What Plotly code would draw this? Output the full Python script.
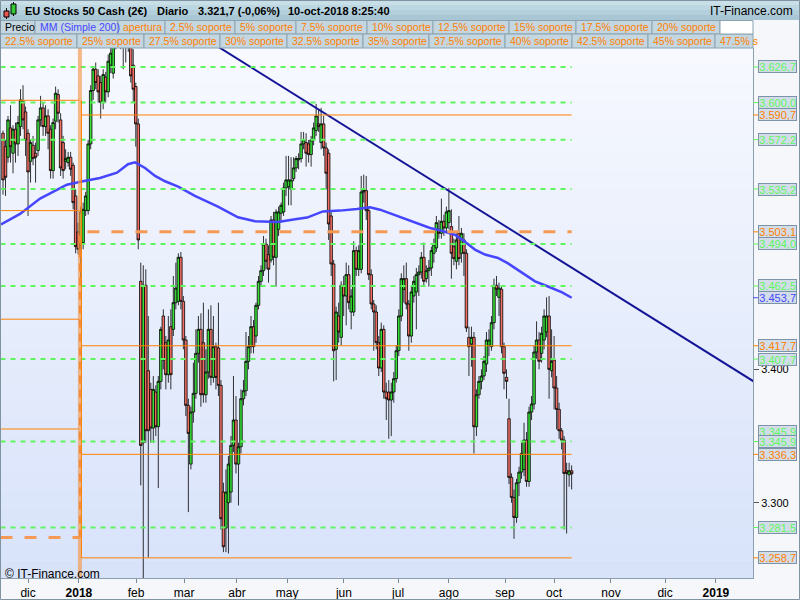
import plotly.graph_objects as go

# daily candles, late Nov 2017 -> 10 Oct 2018 (x = trading-day index)
opens = [3577, 3567, 3559, 3581, 3562, 3580, 3569, 3582, 3601, 3593, 3577, 3556, 3568, 3562, 3564, 3587,
         3596, 3582, 3590, 3580, 3549, 3586, 3606, 3587, 3570, 3556, 3555, 3559, 3553, 3530, 3503,
         3494, 3495, 3519, 3519, 3569, 3609, 3625, 3620, 3615, 3600, 3619, 3608, 3628, 3622, 3647, 3655,
         3668, 3645, 3650, 3645, 3655, 3628, 3612, 3584, 3466, 3345, 3463, 3399,
         3385, 3356, 3383, 3357, 3391, 3440, 3420, 3396, 3432, 3430, 3450, 3451, 3484, 3451, 3422, 3373,
         3329, 3368, 3382, 3412, 3430, 3420, 3381, 3398, 3430, 3394, 3417, 3416, 3388, 3308, 3281, 3300,
         3308, 3343, 3362, 3329, 3342, 3378, 3384, 3406, 3417, 3432, 3425, 3448, 3466, 3474, 3494, 3486,
         3482, 3512, 3484, 3505, 3517, 3518, 3536, 3537,
         3535, 3543, 3551, 3557, 3558, 3569, 3570, 3569, 3561, 3572, 3579, 3584, 3570, 3584, 3566, 3562,
         3515, 3479, 3415, 3440, 3424, 3463, 3455, 3471, 3443, 3443, 3489, 3475, 3475, 3533, 3534, 3519,
         3471, 3449, 3443, 3420, 3401, 3430, 3383, 3383, 3377, 3383, 3393, 3414, 3440, 3460, 3468, 3449,
         3425, 3455, 3458, 3471, 3473, 3484, 3468, 3474, 3476, 3487, 3491,
         3505, 3502, 3511, 3506, 3510, 3507, 3492, 3481, 3502, 3487, 3497, 3487, 3424, 3419, 3424, 3357,
         3381, 3391, 3395, 3404, 3418, 3417, 3435, 3463, 3454, 3460, 3417, 3394, 3363, 3319, 3304, 3289,
         3315, 3323, 3325, 3347, 3316, 3368, 3374, 3413, 3422, 3412, 3422, 3428, 3440, 3399, 3407, 3386,
         3370, 3354, 3347, 3324, 3321, 3324]
highs = [3579, 3572, 3590, 3598, 3583, 3585, 3590, 3610, 3613, 3597, 3580, 3572, 3575, 3570, 3590, 3605,
         3600, 3598, 3595, 3583, 3588, 3612, 3610, 3592, 3575, 3565, 3563, 3563, 3555, 3535, 3510,
         3522, 3525, 3533, 3572, 3613, 3627, 3630, 3625, 3620, 3625, 3623, 3636, 3645, 3660, 3665, 3670,
         3687, 3660, 3660, 3665, 3665, 3640, 3615, 3588, 3480, 3478, 3475, 3440,
         3390, 3395, 3388, 3395, 3432, 3445, 3425, 3440, 3445, 3470, 3480, 3487, 3488, 3455, 3425, 3378,
         3372, 3405, 3430, 3440, 3442, 3450, 3415, 3445, 3448, 3440, 3420, 3450, 3392, 3315, 3325, 3335,
         3350, 3395, 3380, 3345, 3385, 3392, 3428, 3425, 3440, 3437, 3450, 3470, 3478, 3500, 3498, 3493,
         3515, 3518, 3520, 3522, 3525, 3540, 3560, 3560,
         3559, 3559, 3560, 3562, 3578, 3578, 3577, 3572, 3575, 3585, 3599, 3595, 3596, 3590, 3570, 3565,
         3518, 3482, 3447, 3450, 3466, 3470, 3480, 3478, 3460, 3496, 3492, 3493, 3545, 3546, 3545, 3522,
         3475, 3452, 3448, 3425, 3435, 3433, 3390, 3392, 3390, 3398, 3418, 3445, 3472, 3478, 3480, 3452,
         3462, 3470, 3476, 3478, 3488, 3495, 3478, 3482, 3492, 3498, 3515,
         3512, 3528, 3516, 3522, 3536, 3520, 3498, 3502, 3515, 3506, 3502, 3490, 3432, 3432, 3428, 3385,
         3395, 3400, 3410, 3428, 3430, 3440, 3468, 3470, 3465, 3462, 3420, 3400, 3378, 3322, 3310, 3318,
         3327, 3345, 3360, 3353, 3372, 3380, 3418, 3436, 3428, 3432, 3445, 3454, 3455, 3430, 3425, 3395,
         3375, 3356, 3350, 3330, 3330, 3328]
lows = [3531, 3530, 3555, 3555, 3547, 3555, 3560, 3575, 3580, 3560, 3515, 3540, 3553, 3540, 3560, 3582,
        3575, 3575, 3565, 3543, 3543, 3580, 3585, 3545, 3543, 3550, 3552, 3545, 3520, 3487, 3486,
        3468, 3490, 3515, 3516, 3565, 3602, 3610, 3600, 3588, 3595, 3600, 3604, 3622, 3618, 3640, 3645,
        3640, 3625, 3630, 3638, 3615, 3600, 3567, 3490, 3313, 3243, 3345, 3259,
        3345, 3345, 3350, 3311, 3385, 3400, 3385, 3390, 3385, 3425, 3445, 3448, 3445, 3415, 3365, 3293,
        3325, 3360, 3378, 3405, 3372, 3375, 3375, 3393, 3388, 3390, 3385, 3380, 3280, 3263, 3263, 3262,
        3300, 3338, 3322, 3298, 3337, 3373, 3380, 3400, 3412, 3412, 3420, 3445, 3462, 3470, 3475, 3465,
        3480, 3478, 3462, 3500, 3510, 3515, 3530, 3523,
        3523, 3541, 3548, 3550, 3555, 3565, 3552, 3555, 3552, 3568, 3575, 3578, 3565, 3560, 3535, 3497,
        3470, 3391, 3392, 3420, 3418, 3440, 3433, 3445, 3430, 3440, 3470, 3470, 3472, 3525, 3512, 3467,
        3445, 3414, 3415, 3395, 3398, 3378, 3362, 3348, 3350, 3375, 3390, 3410, 3436, 3450, 3445, 3414,
        3420, 3450, 3430, 3455, 3468, 3462, 3465, 3462, 3470, 3480, 3488,
        3498, 3498, 3500, 3502, 3505, 3468, 3478, 3475, 3478, 3480, 3470, 3428, 3395, 3402, 3337, 3350,
        3378, 3385, 3392, 3398, 3410, 3414, 3430, 3455, 3440, 3412, 3385, 3378, 3314, 3300, 3273, 3285,
        3305, 3318, 3320, 3312, 3312, 3362, 3370, 3408, 3400, 3405, 3415, 3424, 3378, 3394, 3370, 3355,
        3348, 3340, 3280, 3277, 3312, 3310]
closes = [3542, 3544, 3587, 3567, 3580, 3569, 3585, 3602, 3587, 3572, 3548, 3570, 3558, 3559, 3587, 3596,
          3582, 3590, 3577, 3549, 3585, 3607, 3592, 3551, 3549, 3558, 3559, 3550, 3525, 3492, 3490,
          3518, 3520, 3530, 3569, 3609, 3625, 3615, 3608, 3600, 3621, 3608, 3631, 3637, 3647, 3655, 3660,
          3645, 3650, 3642, 3655, 3620, 3610, 3584, 3497, 3343, 3463, 3354, 3354,
          3356, 3385, 3357, 3391, 3430, 3407, 3396, 3422, 3396, 3450, 3461, 3484, 3451, 3422, 3373, 3352,
          3368, 3382, 3412, 3430, 3381, 3381, 3398, 3430, 3394, 3417, 3394, 3388, 3288, 3267, 3308, 3329,
          3343, 3362, 3329, 3342, 3378, 3384, 3406, 3417, 3432, 3417, 3448, 3466, 3474, 3494, 3481, 3475,
          3512, 3484, 3518, 3518, 3523, 3536, 3542, 3542,
          3542, 3551, 3558, 3558, 3569, 3572, 3562, 3561, 3572, 3581, 3590, 3582, 3584, 3566, 3547, 3509,
          3479, 3414, 3443, 3428, 3463, 3455, 3471, 3450, 3455, 3489, 3475, 3489, 3533, 3534, 3519, 3471,
          3449, 3443, 3420, 3401, 3430, 3383, 3378, 3377, 3383, 3393, 3414, 3440, 3468, 3468, 3449, 3425,
          3458, 3466, 3471, 3473, 3484, 3466, 3474, 3476, 3489, 3494, 3510,
          3502, 3511, 3506, 3518, 3519, 3487, 3483, 3497, 3483, 3502, 3487, 3431, 3417, 3424, 3357, 3381,
          3391, 3395, 3406, 3422, 3422, 3435, 3463, 3460, 3461, 3417, 3397, 3391, 3319, 3304, 3289, 3315,
          3323, 3337, 3347, 3316, 3368, 3374, 3413, 3422, 3406, 3427, 3440, 3440, 3400, 3406, 3386, 3370,
          3354, 3347, 3322, 3322, 3324, 3321.7]

# MM (Simple 200)
ma_x = [-0.8, 6.8, 14.8, 25.5, 31.9, 38.7, 45.5, 49.9, 52.7, 56.7, 60.7, 64.7, 69.9, 76.6, 85.8, 93.8,
        100.6, 109.8, 116.6, 121.4, 127.7, 134.5, 141.3, 146.5, 150.5, 157.3, 165.3, 170.5, 174.5, 180.4,
        184.4, 188.4, 192.4, 197.6, 201.6, 207.2, 212.4, 217.6, 223.2, 227]
ma_y = [3508.6, 3516.5, 3528.0, 3538.4, 3541.0, 3543.5, 3547.4, 3553.8, 3555.2, 3551.0, 3545.0, 3541.0,
        3537.0, 3530.0, 3522.0, 3514.0, 3511.0, 3510.5, 3512.5, 3513.8, 3518.4, 3519.0, 3520.2, 3521.5,
        3519.7, 3515.0, 3510.0, 3506.0, 3504.2, 3500.9, 3495.7, 3489.8, 3486.1, 3483.5, 3479.4, 3472.4,
        3466.0, 3462.1, 3457.7, 3453.7]

trend_x = [44, 300]
trend_y = [3691.0, 3390.6]

green_levels = [3626.7, 3600.0, 3572.2, 3535.2, 3494.0, 3462.5, 3407.7, 3345.9, 3281.5]
levels_2017 = [3601.7, 3519.0, 3437.6, 3355.3]
open_2017 = 3274.0
levels_2018 = [3590.7, 3417.7, 3336.3, 3258.7]
open_2018 = 3503.1
ma_last = 3453.7

month_idx = [10, 30.3, 53.1, 72.3, 93.4, 113.4, 136.1, 157.7, 178.0, 200.4, 220.0, 242.7, 264.3, 284.6]
month_lbl = ["dic", "<b>2018</b>", "feb", "mar", "abr", "may", "jun", "jul", "ago", "sep", "oct",
             "nov", "dic", "<b>2019</b>"]

legend_row1 = ["Precio", "MM (Simple 200)", "apertura", "2.5% soporte", "5% soporte", "7.5% soporte",
               "10% soporte", "12.5% soporte", "15% soporte", "17.5% soporte", "20% soporte"]
legend_row2 = ["22.5% soporte", "25% soporte", "27.5% soporte", "30% soporte", "32.5% soporte",
               "35% soporte", "37.5% soporte", "40% soporte", "42.5% soporte", "45% soporte", "47.5% s"]

FONT = "Liberation Sans, Arial, sans-serif"
GREEN = "#5ff55f"
ORANGE = "#ff8000"
BLUE = "#4646ff"
LAST = 227
YEAR_X = 30.7

# pixel -> paper helpers (plot area is x 1..753, y 48..578)
def fx(px):
  return (px - 1) / 752.0

def fy(py):
  return (578 - py) / 530.0

def fmt(v):
  return f"{v:,.1f}".replace(",", "X").replace(".", ",").replace("X", ".")

bars = list(range(len(closes)))

fig = go.Figure()
fig.add_trace(go.Candlestick(
  x=bars, open=opens, high=highs, low=lows, close=closes,
  increasing=dict(fillcolor="#38e038", line=dict(color="black", width=0.8)),
  decreasing=dict(fillcolor="#f26e64", line=dict(color="black", width=0.8)),
  whiskerwidth=0, hoverinfo="skip", showlegend=False,
))
fig.add_trace(go.Scatter(x=ma_x, y=ma_y, mode="lines", line=dict(color=BLUE, width=2.5),
                         hoverinfo="skip", showlegend=False))
fig.add_trace(go.Scatter(x=trend_x, y=trend_y, mode="lines", line=dict(color="#141496", width=2),
                         hoverinfo="skip", showlegend=False))

shapes = []
# plot background gradient
n = 30
for k in range(n):
  t = k / (n - 1)
  r = int(247 + (216 - 247) * t)
  g = int(249 + (227 - 249) * t)
  b = int(255 + (250 - 255) * t)
  shapes.append(dict(type="rect", xref="paper", yref="paper", x0=0, x1=1,
                     y0=1 - (k + 1) / n, y1=1 - k / n, layer="below",
                     line=dict(width=0), fillcolor=f"rgb({r},{g},{b})"))

# support / resistance levels
for v in green_levels:
  shapes.append(dict(type="line", xref="x", yref="y", x0=-1, x1=LAST, y0=v, y1=v,
                     line=dict(color=GREEN, width=2, dash="5px,5px")))
for v in levels_2017:
  shapes.append(dict(type="line", xref="x", yref="y", x0=-1, x1=YEAR_X - 0.2, y0=v, y1=v,
                     line=dict(color=ORANGE, width=1)))
shapes.append(dict(type="line", xref="x", yref="y", x0=-1, x1=YEAR_X - 0.2, y0=open_2017, y1=open_2017,
                   line=dict(color="#f59a55", width=3, dash="12px,12px")))
for v in levels_2018:
  shapes.append(dict(type="line", xref="x", yref="y", x0=YEAR_X + 0.6, x1=LAST, y0=v, y1=v,
                     line=dict(color=ORANGE, width=1)))
shapes.append(dict(type="line", xref="x", yref="y", x0=YEAR_X + 3, x1=LAST, y0=open_2018, y1=open_2018,
                   line=dict(color="#f59a55", width=3, dash="12px,12px")))
# year change
shapes.append(dict(type="line", xref="x", yref="paper", x0=YEAR_X, x1=YEAR_X, y0=0, y1=1,
                   line=dict(color="rgba(245,150,70,0.65)", width=4)))
shapes.append(dict(type="line", xref="x", yref="y", x0=YEAR_X, x1=YEAR_X, y0=open_2017, y1=open_2018,
                   line=dict(color="#f08a3a", width=2, dash="8px,6px")))
shapes.append(dict(type="line", xref="x", yref="y", x0=YEAR_X + 0.6, x1=YEAR_X + 0.6,
                   y0=levels_2018[-1], y1=levels_2017[0], line=dict(color=ORANGE, width=1)))

# header bar
hdr = ["#c8dfe8", "#bdd7e2", "#b2cfdb", "#a8c6d4"]
for k, c in enumerate(hdr):
  shapes.append(dict(type="rect", xref="paper", yref="paper", x0=fx(0), x1=fx(800),
                     y0=fy(5 * (k + 1)), y1=fy(5 * k), line=dict(width=0), fillcolor=c))
# small candle icon
shapes.append(dict(type="line", xref="paper", yref="paper", x0=fx(6.5), x1=fx(6.5), y0=fy(19), y1=fy(8),
                   line=dict(color="black", width=1)))
shapes.append(dict(type="rect", xref="paper", yref="paper", x0=fx(4), x1=fx(9), y0=fy(17), y1=fy(11),
                   line=dict(color="black", width=1), fillcolor="#e8564e"))
shapes.append(dict(type="line", xref="paper", yref="paper", x0=fx(13.5), x1=fx(13.5), y0=fy(16), y1=fy(2),
                   line=dict(color="black", width=1)))
shapes.append(dict(type="rect", xref="paper", yref="paper", x0=fx(11), x1=fx(16), y0=fy(14), y1=fy(4),
                   line=dict(color="black", width=1), fillcolor="#36c936"))

# legend cells
row1_edges = [0, 35, 118, 165, 235, 296, 367, 433, 509, 576, 652, 720]
row2_edges = [0, 77, 144, 220, 287, 363, 429, 505, 572, 648, 715, 753]
for edges, (top, bot) in ((row1_edges, (20.5, 34)), (row2_edges, (34, 48))):
  for a, b2 in zip(edges[:-1], edges[1:]):
    shapes.append(dict(type="rect", xref="paper", yref="paper", x0=fx(a), x1=fx(b2),
                       y0=fy(bot), y1=fy(top), line=dict(color="#8ba3b1", width=1),
                       fillcolor="#c4d7e1"))
shapes.append(dict(type="rect", xref="paper", yref="paper", x0=fx(720), x1=fx(753),
                   y0=fy(34), y1=fy(20.5), line=dict(color="#8ba3b1", width=1), fillcolor="white"))

# right axis level ticks
axis_labels = [(v, GREEN) for v in green_levels] + [(v, ORANGE) for v in levels_2018] + \
  [(open_2018, ORANGE), (ma_last, BLUE)]
for v, c in axis_labels:
  shapes.append(dict(type="line", xref="paper", yref="y", x0=fx(753), x1=fx(758), y0=v, y1=v,
                     line=dict(color=c, width=1)))

# outer frame
shapes.append(dict(type="rect", xref="paper", yref="paper", x0=fx(0.5), x1=fx(799.5),
                   y0=fy(599.5), y1=fy(0.5), line=dict(color="#7f93a3", width=1)))

annotations = []
hy = fy(10.5)
for txt, x in (("<b>EU Stocks 50 Cash (2€)</b>", 23), ("<b>Diario</b>", 155),
               ("<b>3.321,7 (-0,06%)</b>", 196), ("<b>10-oct-2018 8:25:40</b>", 286)):
  annotations.append(dict(text=txt, xref="paper", yref="paper", x=fx(x), y=hy, xanchor="left",
                          yanchor="middle", showarrow=False, font=dict(family=FONT, size=11, color="black")))
annotations.append(dict(text="IT-Finance.com", xref="paper", yref="paper", x=fx(795), y=hy, xanchor="right",
                        yanchor="middle", showarrow=False, font=dict(family=FONT, size=12, color="black")))

for names, edges, cy in ((legend_row1, row1_edges, 27.5), (legend_row2, row2_edges, 41.2)):
  for i, name in enumerate(names):
    col = ORANGE
    if name == "Precio":
      col = "black"
    elif name.startswith("MM"):
      col = BLUE
    annotations.append(dict(text=name, xref="paper", yref="paper", x=fx(edges[i] + 3), y=fy(cy),
                            xanchor="left", yanchor="middle", showarrow=False,
                            font=dict(family=FONT, size=10.5, color=col)))

annotations.append(dict(text="© IT-Finance.com", xref="paper", yref="paper", x=fx(3), y=fy(574),
                        xanchor="left", yanchor="middle", showarrow=False,
                        font=dict(family=FONT, size=12, color="black")))

# value boxes on the right axis (the duplicate 3.345,9 sits half hidden above)
box_list = [(green_levels[7], GREEN, 10)] + [(v, c, 0) for v, c in axis_labels]
for v, c, shift in box_list:
  annotations.append(dict(text=fmt(v), xref="paper", yref="y", x=fx(758), y=v, yshift=shift,
                          xanchor="left", yanchor="middle", showarrow=False, width=37, height=11,
                          align="right", borderpad=0, borderwidth=1, bordercolor="#7d93a9",
                          bgcolor="#d2dde9", font=dict(family=FONT, size=11, color=c)))

fig.update_layout(
  width=800, height=600,
  margin=dict(l=1, r=47, t=48, b=22),
  paper_bgcolor="#f5f7fa", plot_bgcolor="#e9effb",
  boxgap=0, boxgroupgap=0,
  shapes=shapes, annotations=annotations,
  xaxis=dict(range=[-0.8, 299.4], tickvals=month_idx, ticktext=month_lbl, ticks="outside", ticklen=4,
             tickcolor="#7a8a99", showgrid=False, zeroline=False, showline=True, linecolor="#8ba0ae",
             rangeslider=dict(visible=False), tickfont=dict(family=FONT, size=12, color="black")),
  yaxis=dict(range=[3243.6, 3640.9], side="right", tickvals=[3300, 3400], ticktext=["3.300", "3.400"],
             ticks="outside", ticklen=5, tickcolor="#555555", showgrid=False, zeroline=False,
             showline=True, linecolor="#8ba0ae", tickfont=dict(family=FONT, size=11, color="black")),
)

fig.write_html("out.html", config={"displayModeBar": False},
               post_script="document.body.style.margin='0';")
